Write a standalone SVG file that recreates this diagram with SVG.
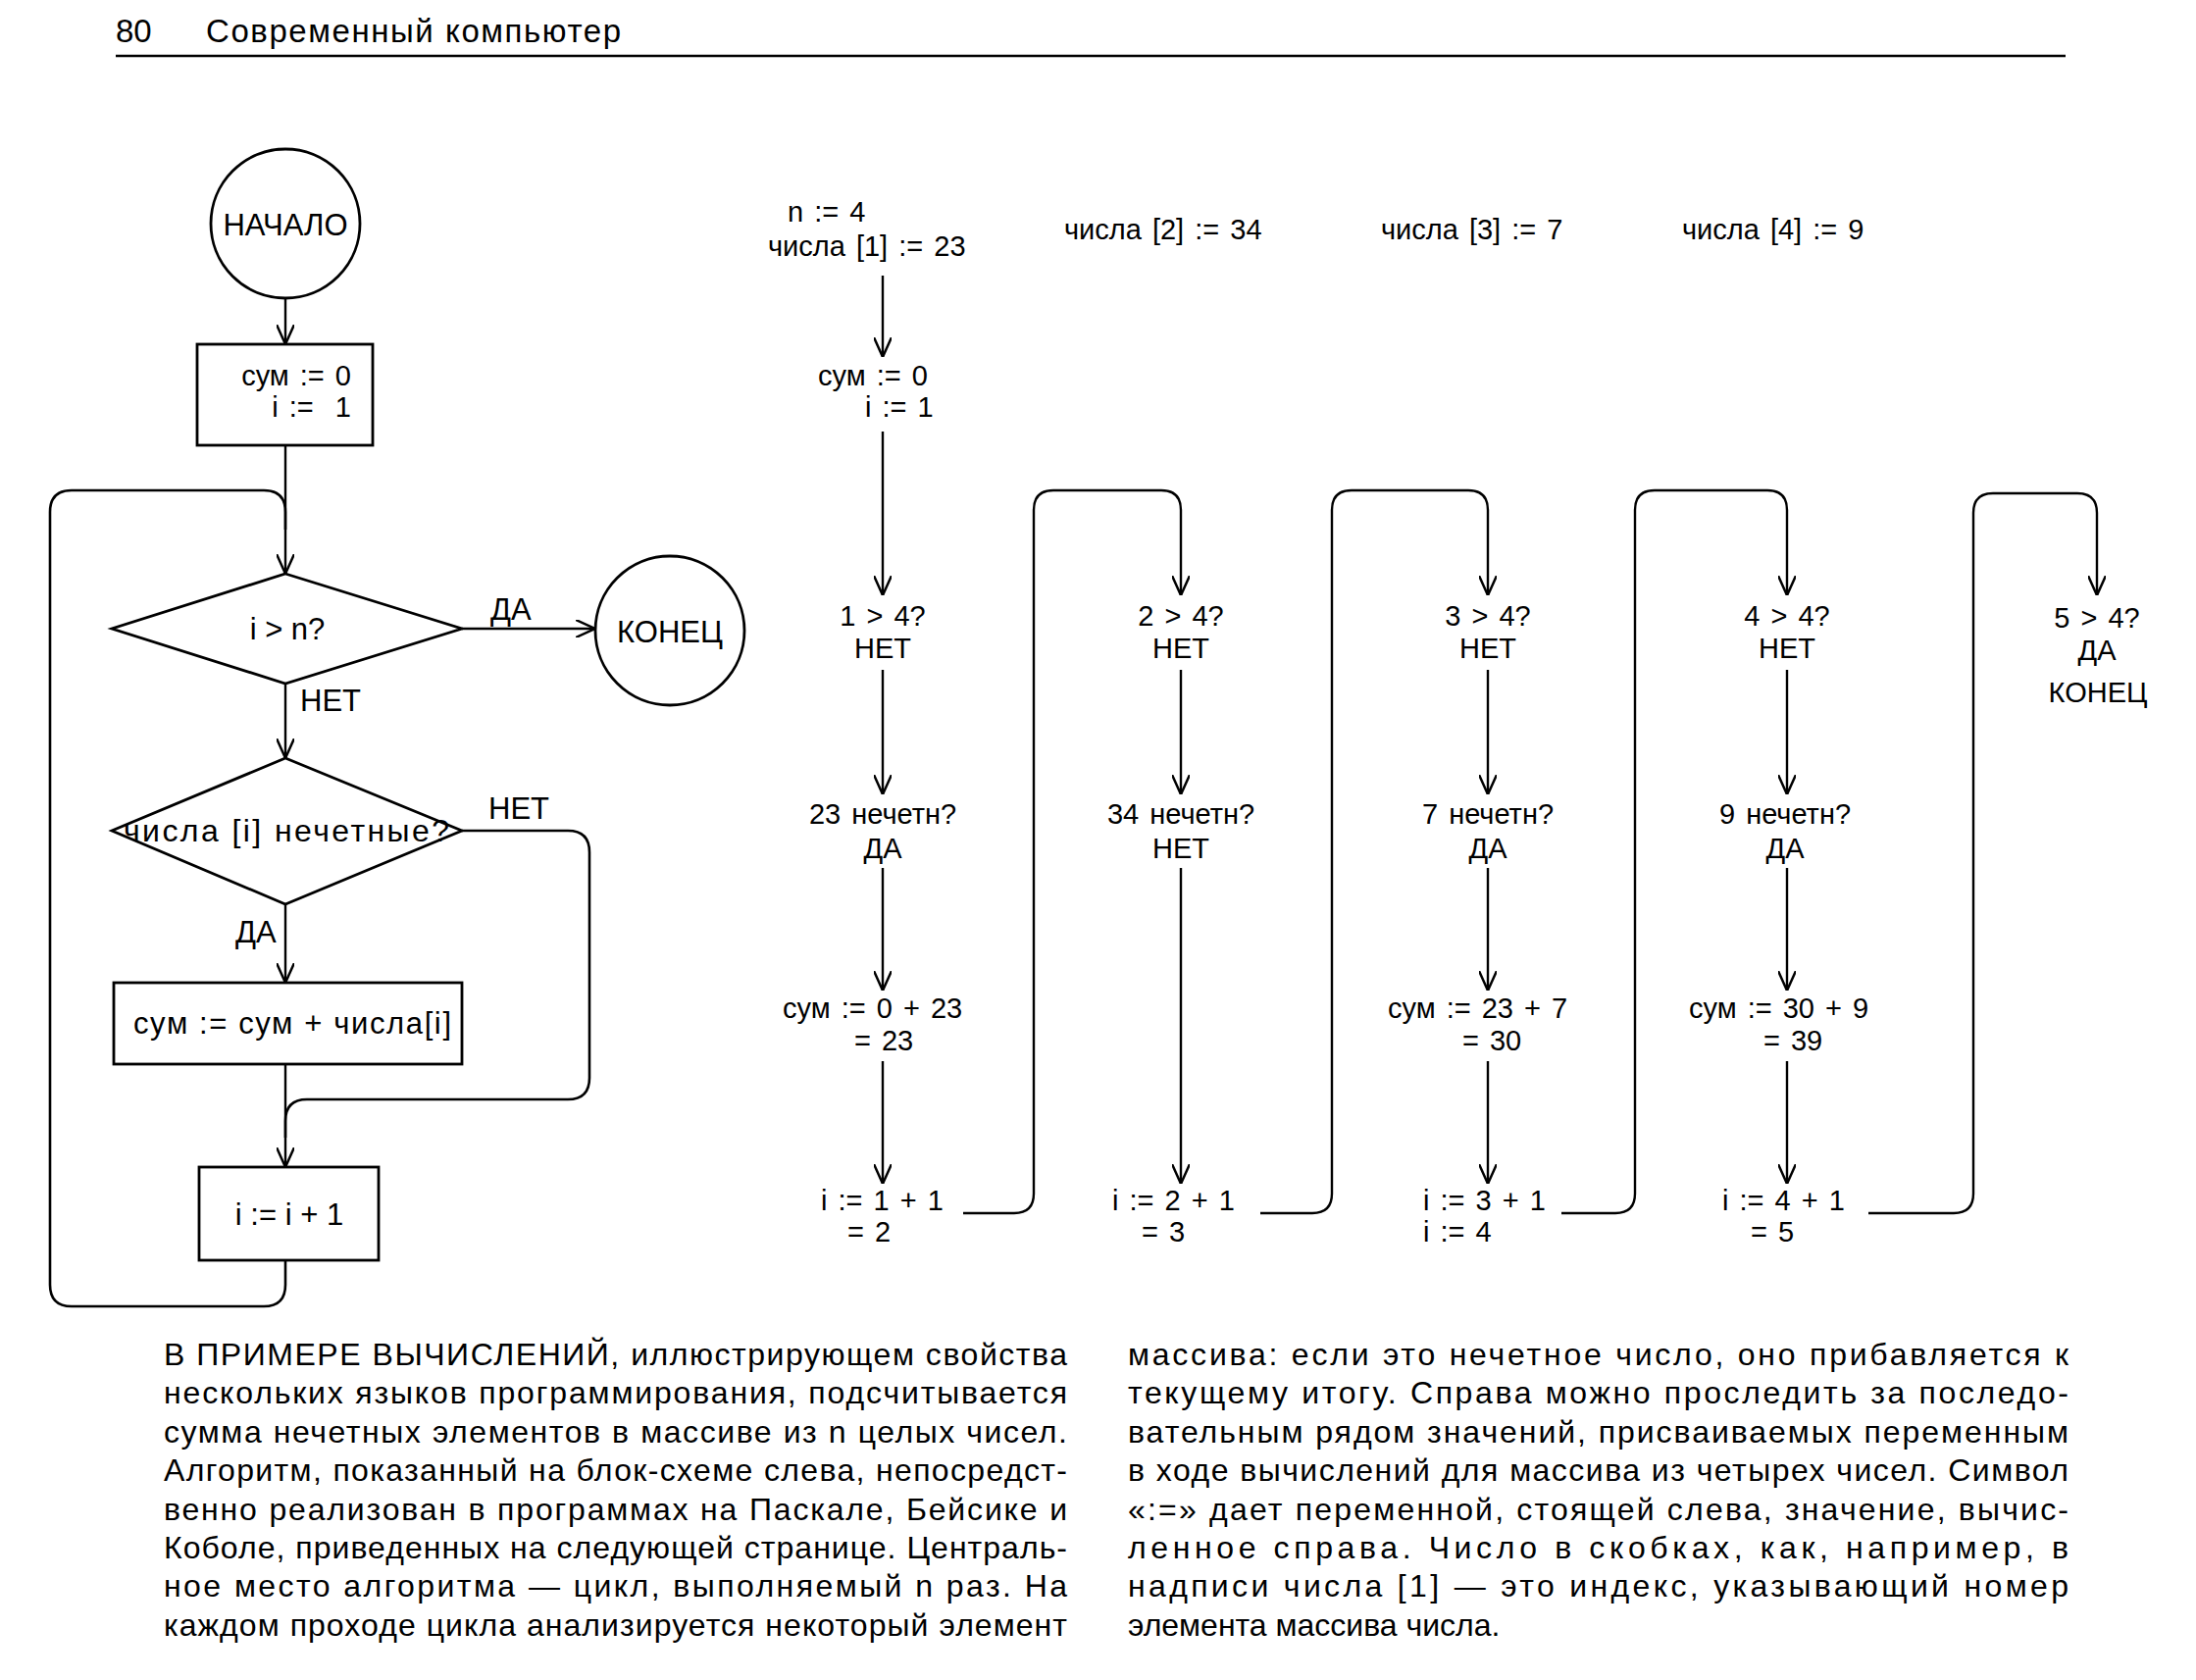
<svg xmlns="http://www.w3.org/2000/svg" width="2239" height="1713" viewBox="0 0 2239 1713">
<defs>
<marker id="arr" viewBox="0 0 20 18" refX="20" refY="9" markerWidth="20" markerHeight="18" markerUnits="userSpaceOnUse" orient="auto">
<path d="M0,0 L20,9 L0,18" fill="none" stroke="#000" stroke-width="2.5"/>
</marker>
<style>
text{font-family:"Liberation Sans",Arial,sans-serif;fill:#000}
.hd{font-size:33px}
.lb{font-size:31px}
.tr{font-size:29px;word-spacing:3px}
.bd{font-size:32px}
.c{text-anchor:middle}
.e{text-anchor:end}
.sh{fill:#fff;stroke:#000;stroke-width:2.8}
.ln{fill:none;stroke:#000;stroke-width:2.6}
.ar{fill:none;stroke:#000;stroke-width:2.4;marker-end:url(#arr)}
</style>
</defs>
<rect width="2239" height="1713" fill="#fff"/>

<g id="header">
<text class="hd" x="118" y="43">80</text>
<text class="hd" x="210" y="43" textLength="423" lengthAdjust="spacing">Современный компьютер</text>
<line x1="118" y1="57" x2="2106" y2="57" stroke="#000" stroke-width="2.5"/>
</g>

<g id="connectors">
<!-- left flowchart -->
<line class="ar" x1="291" y1="304" x2="291" y2="351"/>
<line class="ar" x1="291" y1="454" x2="291" y2="585"/>
<path class="ln" d="M291,1285 V1310 Q291,1332 269,1332 H73 Q51,1332 51,1310 V522 Q51,500 73,500 H269 Q291,500 291,522 V540"/>
<line class="ar" x1="471" y1="641" x2="607" y2="641"/>
<line class="ar" x1="291" y1="697" x2="291" y2="773"/>
<line class="ar" x1="291" y1="922" x2="291" y2="1002"/>
<line class="ar" x1="291" y1="1085" x2="291" y2="1190"/>
<path class="ln" d="M471,847 H579 Q601,847 601,869 V1099 Q601,1121 579,1121 H313 Q291,1121 291,1143 V1160"/>
<!-- trace column 1 -->
<line class="ar" x1="900" y1="281" x2="900" y2="364"/>
<line class="ar" x1="900" y1="440" x2="900" y2="607"/>
<line class="ar" x1="900" y1="683" x2="900" y2="810"/>
<line class="ar" x1="900" y1="885" x2="900" y2="1010"/>
<line class="ar" x1="900" y1="1082" x2="900" y2="1207"/>
<path class="ar" d="M982,1237 H1034 Q1054,1237 1054,1217 V520 Q1054,500 1074,500 H1184 Q1204,500 1204,520 V607"/>
<!-- trace column 2 -->
<line class="ar" x1="1204" y1="683" x2="1204" y2="810"/>
<line class="ar" x1="1204" y1="885" x2="1204" y2="1207"/>
<path class="ar" d="M1285,1237 H1338 Q1358,1237 1358,1217 V520 Q1358,500 1378,500 H1497 Q1517,500 1517,520 V607"/>
<!-- trace column 3 -->
<line class="ar" x1="1517" y1="683" x2="1517" y2="810"/>
<line class="ar" x1="1517" y1="885" x2="1517" y2="1010"/>
<line class="ar" x1="1517" y1="1082" x2="1517" y2="1207"/>
<path class="ar" d="M1592,1237 H1647 Q1667,1237 1667,1217 V520 Q1667,500 1687,500 H1802 Q1822,500 1822,520 V607"/>
<!-- trace column 4 -->
<line class="ar" x1="1822" y1="683" x2="1822" y2="810"/>
<line class="ar" x1="1822" y1="885" x2="1822" y2="1010"/>
<line class="ar" x1="1822" y1="1082" x2="1822" y2="1207"/>
<path class="ar" d="M1905,1237 H1992 Q2012,1237 2012,1217 V523 Q2012,503 2032,503 H2118 Q2138,503 2138,523 V607"/>
</g>

<g id="start">
<circle class="sh" cx="291" cy="228" r="76"/>
<text class="lb c" x="291" y="240">НАЧАЛО</text>
</g>
<g id="init">
<rect class="sh" x="201" y="351" width="179" height="103"/>
<text class="tr e" x="358" y="393">сум :=  0</text>
<text class="tr e" x="358" y="425" xml:space="preserve">i :=  1</text>
</g>
<g id="cond1">
<polygon class="sh" points="291,585 471,641 291,697 114,641"/>
<text class="lb c" x="293" y="652">i &gt; n?</text>
<text class="lb" x="500" y="632">ДА</text>
<text class="lb" x="306" y="725">НЕТ</text>
</g>
<g id="end">
<circle class="sh" cx="683" cy="643" r="76"/>
<text class="lb c" x="683" y="655">КОНЕЦ</text>
</g>
<g id="cond2">
<polygon class="sh" points="291,773 471,847 291,922 114,847"/>
<text class="lb" x="126" y="858" textLength="332" lengthAdjust="spacing" style="font-size:32px">числа [i] нечетные?</text>
<text class="lb" x="498" y="835">НЕТ</text>
<text class="lb" x="240" y="961">ДА</text>
</g>
<g id="add">
<rect class="sh" x="116" y="1002" width="355" height="83"/>
<text class="lb" x="136" y="1054" textLength="324" lengthAdjust="spacing">сум :=   сум + числа[i]</text>
</g>
<g id="inc">
<rect class="sh" x="203" y="1190" width="183" height="95"/>
<text class="lb c" x="295" y="1249">i := i + 1</text>
</g>

<g id="trace1">
<text class="tr" x="803" y="226">n := 4</text>
<text class="tr" x="783" y="261">числа [1] := 23</text>
<text class="tr" x="834" y="393">сум :=  0</text>
<text class="tr" x="882" y="425">i :=  1</text>
<text class="tr c" x="900" y="638">1 &gt; 4?</text>
<text class="tr c" x="900" y="671">НЕТ</text>
<text class="tr c" x="900" y="840">23 нечетн?</text>
<text class="tr c" x="900" y="875">ДА</text>
<text class="tr" x="798" y="1038">сум :=  0 + 23</text>
<text class="tr" x="871" y="1071">=  23</text>
<text class="tr" x="837" y="1234">i :=  1 + 1</text>
<text class="tr" x="864" y="1266">=  2</text>
</g>
<g id="trace2">
<text class="tr" x="1085" y="244">числа [2] := 34</text>
<text class="tr c" x="1204" y="638">2 &gt; 4?</text>
<text class="tr c" x="1204" y="671">НЕТ</text>
<text class="tr c" x="1204" y="840">34 нечетн?</text>
<text class="tr c" x="1204" y="875">НЕТ</text>
<text class="tr" x="1134" y="1234">i :=  2 + 1</text>
<text class="tr" x="1164" y="1266">=  3</text>
</g>
<g id="trace3">
<text class="tr" x="1408" y="244">числа [3] := 7</text>
<text class="tr c" x="1517" y="638">3 &gt; 4?</text>
<text class="tr c" x="1517" y="671">НЕТ</text>
<text class="tr c" x="1517" y="840">7 нечетн?</text>
<text class="tr c" x="1517" y="875">ДА</text>
<text class="tr" x="1415" y="1038">сум :=  23 + 7</text>
<text class="tr" x="1491" y="1071">=  30</text>
<text class="tr" x="1451" y="1234">i := 3 + 1</text>
<text class="tr" x="1451" y="1266">i := 4</text>
</g>
<g id="trace4">
<text class="tr" x="1715" y="244">числа [4] := 9</text>
<text class="tr c" x="1822" y="638">4 &gt; 4?</text>
<text class="tr c" x="1822" y="671">НЕТ</text>
<text class="tr c" x="1820" y="840">9 нечетн?</text>
<text class="tr c" x="1820" y="875">ДА</text>
<text class="tr" x="1722" y="1038">сум :=  30 + 9</text>
<text class="tr" x="1798" y="1071">=  39</text>
<text class="tr" x="1756" y="1234">i :=  4 + 1</text>
<text class="tr" x="1785" y="1266">=  5</text>
</g>
<g id="trace5">
<text class="tr c" x="2138" y="640">5 &gt; 4?</text>
<text class="tr c" x="2138" y="673">ДА</text>
<text class="tr c" x="2139" y="716">КОНЕЦ</text>
</g>

<g id="caption-left">
<text class="bd" x="167" y="1392" textLength="921" lengthAdjust="spacing">В ПРИМЕРЕ ВЫЧИСЛЕНИЙ, иллюстрирующем свойства</text>
<text class="bd" x="167" y="1431" textLength="921" lengthAdjust="spacing">нескольких языков программирования, подсчитывается</text>
<text class="bd" x="167" y="1471" textLength="921" lengthAdjust="spacing">сумма нечетных элементов в массиве из n целых чисел.</text>
<text class="bd" x="167" y="1510" textLength="921" lengthAdjust="spacing">Алгоритм, показанный на блок-схеме слева, непосредст-</text>
<text class="bd" x="167" y="1550" textLength="921" lengthAdjust="spacing">венно реализован в программах на Паскале, Бейсике и</text>
<text class="bd" x="167" y="1589" textLength="921" lengthAdjust="spacing">Коболе, приведенных на следующей странице. Централь-</text>
<text class="bd" x="167" y="1628" textLength="921" lengthAdjust="spacing">ное место алгоритма — цикл, выполняемый n раз. На</text>
<text class="bd" x="167" y="1668" textLength="921" lengthAdjust="spacing">каждом проходе цикла анализируется некоторый элемент</text>
</g>
<g id="caption-right">
<text class="bd" x="1150" y="1392" textLength="959" lengthAdjust="spacing">массива: если это нечетное число, оно прибавляется к</text>
<text class="bd" x="1150" y="1431" textLength="959" lengthAdjust="spacing">текущему итогу. Справа можно проследить за последо-</text>
<text class="bd" x="1150" y="1471" textLength="959" lengthAdjust="spacing">вательным рядом значений, присваиваемых переменным</text>
<text class="bd" x="1150" y="1510" textLength="959" lengthAdjust="spacing">в ходе вычислений для массива из четырех чисел. Символ</text>
<text class="bd" x="1150" y="1550" textLength="959" lengthAdjust="spacing">«:=» дает переменной, стоящей слева, значение, вычис-</text>
<text class="bd" x="1150" y="1589" textLength="959" lengthAdjust="spacing">ленное справа. Число в скобках, как, например, в</text>
<text class="bd" x="1150" y="1628" textLength="959" lengthAdjust="spacing">надписи числа [1] — это индекс, указывающий номер</text>
<text class="bd" x="1150" y="1668">элемента массива числа.</text>
</g>
</svg>
